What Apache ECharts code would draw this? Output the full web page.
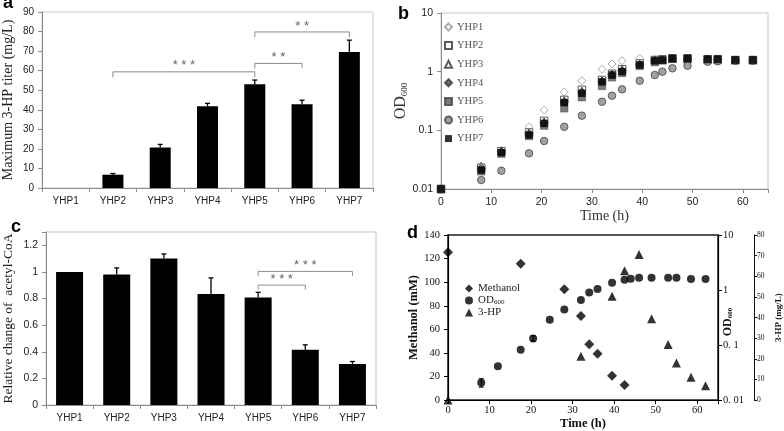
<!DOCTYPE html>
<html><head><meta charset="utf-8">
<script src="https://cdn.jsdelivr.net/npm/echarts/dist/echarts.min.js"></script>
<style>html,body{margin:0;padding:0;background:#fff}#c{width:784px;height:431px}</style>
</head><body><div id="c"></div><script>
// ---------- data ----------
const strains = ['YHP1','YHP2','YHP3','YHP4','YHP5','YHP6','YHP7'];
// panel a: maximum 3-HP titer (mg/L)
const titer = [0, 6.8, 20.7, 41.8, 53.0, 42.8, 69.6];
const titerErr = [0, 0.6, 1.6, 1.5, 2.2, 2.1, 6.0];
const titerBrFrom = [1, 4, 4];
const titerBrTo = [4, 5, 6];
const titerBrY = [59.4, 63.7, 79.8];
const titerBrEnd = [56.6, 61.2, 77.0];
const titerStars = ['***', '**', '**'];
// panel c: relative acetyl-CoA
const acoa = [1.0, 0.98, 1.10, 0.835, 0.807, 0.415, 0.309];
const acoaErr = [0, 0.05, 0.035, 0.12, 0.04, 0.037, 0.018];
const acoaBrFrom = [4, 4];
const acoaBrTo = [5, 6];
const acoaBrY = [0.901, 1.004];
const acoaBrEnd = [0.866, 0.969];
const acoaStars = ['***', '***'];
// panel b: OD600 growth curves
const timeB = [0, 8, 12, 17.5, 20.5, 24.5, 28, 32, 34, 36, 39.5, 42.5, 44, 46, 49, 53, 55, 58.5, 62];
const odYHP1 = [0.01, 0.024, 0.045, 0.115, 0.222, 0.45, 0.70, 1.10, 1.35, 1.54, 1.69, 1.60, 1.62, 1.65, 1.65, 1.62, 1.62, 1.58, 1.58];
const odYHP2 = [0.01, 0.023, 0.044, 0.092, 0.145, 0.33, 0.49, 0.72, 0.92, 1.10, 1.38, 1.58, 1.62, 1.68, 1.68, 1.63, 1.63, 1.58, 1.58];
const odYHP3 = [0.01, 0.0247, 0.045, 0.090, 0.140, 0.32, 0.47, 0.70, 0.90, 1.07, 1.35, 1.56, 1.60, 1.66, 1.66, 1.62, 1.62, 1.58, 1.58];
const odYHP4 = [0.01, 0.022, 0.043, 0.088, 0.135, 0.31, 0.45, 0.69, 0.89, 1.05, 1.33, 1.55, 1.60, 1.66, 1.66, 1.62, 1.62, 1.58, 1.58];
const odYHP5 = [0.01, 0.020, 0.040, 0.080, 0.120, 0.237, 0.366, 0.57, 0.80, 0.95, 1.25, 1.45, 1.55, 1.65, 1.65, 1.60, 1.60, 1.56, 1.56];
const odYHP6 = [0.01, 0.0142, 0.0205, 0.0406, 0.0658, 0.115, 0.178, 0.307, 0.389, 0.50, 0.70, 0.877, 1.0, 1.14, 1.26, 1.48, 1.50, 1.55, 1.55];
const odYHP7 = [0.01, 0.021, 0.0416, 0.083, 0.131, 0.296, 0.428, 0.67, 0.877, 1.0, 1.30, 1.54, 1.58, 1.69, 1.69, 1.63, 1.63, 1.58, 1.58];
// panel d: fermentation
const timeMeoh = [0, 17.5, 28, 32, 34, 36, 39.5, 42.5];
const methanol = [125.3, 115.7, 93.9, 71.4, 47.4, 39.2, 20.7, 12.8];
const timeOd = [8, 12, 17.5, 20.5, 24.5, 28, 32, 34, 36, 39.5, 42.5, 44, 46, 49, 53, 55, 58.5, 62];
const odD = [0.0206, 0.0413, 0.0819, 0.131, 0.288, 0.443, 0.662, 0.903, 1.045, 1.35, 1.54, 1.6, 1.67, 1.67, 1.67, 1.67, 1.58, 1.58];
const odErrTime = [8, 20.5];
const odErrLow = [0.0172, 0.118];
const odErrHigh = [0.0245, 0.147];
const timeHp = [0, 32, 39.5, 42.5, 46, 49, 53, 55, 58.5, 62];
const hp = [0, 21.2, 50.3, 62.7, 70.5, 39.4, 27.0, 18.0, 11.1, 6.9];

// ---------- styles ----------
const SANS = 'Liberation Sans, Arial, sans-serif';
const SERIF = 'Liberation Serif, Times New Roman, serif';
const gray = '#8c8c8c';

function errRender(vals, errs) {
  return function (params, api) {
    const i = params.dataIndex;
    if (!errs[i]) return null;
    const base = api.coord([i, vals[i]]);
    const top = api.coord([i, vals[i] + errs[i]]);
    return { type: 'group', children: [
      { type: 'line', shape: { x1: base[0], y1: base[1], x2: top[0], y2: top[1] }, style: { stroke: '#000', lineWidth: 1.3 } },
      { type: 'line', shape: { x1: top[0] - 2.5, y1: top[1], x2: top[0] + 2.5, y2: top[1] }, style: { stroke: '#000', lineWidth: 1.3 } }
    ]};
  };
}
function bracketRender(from, to, yl, ye, stars) {
  return function (params, api) {
    const i = params.dataIndex;
    const a1 = api.coord([from[i], ye[i]]);
    const a2 = api.coord([from[i], yl[i]]);
    const b2 = api.coord([to[i], yl[i]]);
    const b1 = api.coord([to[i], ye[i]]);
    return { type: 'group', children: [
      { type: 'polyline', shape: { points: [a1, a2, b2, b1] }, style: { stroke: gray, lineWidth: 1, fill: null } },
      { type: 'text', x: (a2[0] + b2[0]) / 2, y: a2[1] - 6, style: { text: stars[i].split('').join(' '), align: 'center', verticalAlign: 'middle', fontSize: 13, fontFamily: SANS, fill: '#666' } }
    ]};
  };
}
function odErrRender(params, api) {
  const i = params.dataIndex;
  const lo = api.coord([odErrTime[i], odErrLow[i]]);
  const hi = api.coord([odErrTime[i], odErrHigh[i]]);
  return { type: 'group', children: [
    { type: 'line', shape: { x1: lo[0], y1: lo[1], x2: hi[0], y2: hi[1] }, style: { stroke: '#000', lineWidth: 1 } },
    { type: 'line', shape: { x1: lo[0] - 2.5, y1: lo[1], x2: lo[0] + 2.5, y2: lo[1] }, style: { stroke: '#000', lineWidth: 1 } },
    { type: 'line', shape: { x1: hi[0] - 2.5, y1: hi[1], x2: hi[0] + 2.5, y2: hi[1] }, style: { stroke: '#000', lineWidth: 1 } }
  ]};
}
const pairs = (xs, ys) => xs.map((x, i) => [x, ys[i]]);

const excelAxis = {
  axisLine: { show: true, lineStyle: { color: gray, width: 1 } },
  axisTick: { show: true, length: 4, lineStyle: { color: gray } },
  splitLine: { show: false },
  axisLabel: { fontFamily: SANS, fontSize: 10, color: '#222' }
};
const blackAxis = {
  axisLine: { show: true, lineStyle: { color: '#000', width: 1.2 } },
  axisTick: { show: true, length: 4, lineStyle: { color: '#000' } },
  splitLine: { show: false },
  axisLabel: { fontFamily: SERIF, fontSize: 10.5, color: '#111' }
};
const tens = v => (v % 10 === 0 ? String(v) : '');

const bStyles = [
  { symbol: 'diamond', symbolSize: 8, itemStyle: { color: '#fff', borderColor: '#9a9a9a', borderWidth: 1 } },
  { symbol: 'rect', symbolSize: 7.5, itemStyle: { color: '#fff', borderColor: '#333', borderWidth: 1 } },
  { symbol: 'triangle', symbolSize: 7.5, itemStyle: { color: '#fff', borderColor: '#333', borderWidth: 1 } },
  { symbol: 'diamond', symbolSize: 8, itemStyle: { color: '#555', borderColor: '#333', borderWidth: 1 } },
  { symbol: 'rect', symbolSize: 7.5, itemStyle: { color: '#5a5a5a', borderColor: '#444', borderWidth: 0.5 } },
  { symbol: 'circle', symbolSize: 7.5, itemStyle: { color: '#8a8a8a', borderColor: '#444', borderWidth: 1 } },
  { symbol: 'rect', symbolSize: 7.5, itemStyle: { color: '#000', borderColor: '#000', borderWidth: 0 } }
];
const bData = [odYHP1, odYHP2, odYHP3, odYHP4, odYHP5, odYHP6, odYHP7];

const chart = echarts.init(document.getElementById('c'), null, { renderer: 'canvas' });
chart.setOption({
  animation: false,
  backgroundColor: '#fff',
  grid: [
    { left: 39, top: 12, width: 334, height: 176, show: true, borderColor: '#c8c8c8', borderWidth: 1 },
    { left: 441, top: 13, width: 327, height: 176, show: true, borderColor: '#c8c8c8', borderWidth: 1 },
    { left: 44, top: 232, width: 332, height: 173, show: true, borderColor: '#c8c8c8', borderWidth: 1 },
    { left: 448, top: 235, width: 270, height: 171, show: true, borderColor: '#555', borderWidth: 2 }
  ],
  xAxis: [
    Object.assign({}, excelAxis, { type: 'category', gridIndex: 0, data: strains,
      axisLabel: { fontFamily: SANS, fontSize: 10, color: '#222', margin: 8 } }),
    Object.assign({}, excelAxis, { type: 'value', gridIndex: 1, min: 0, max: 65, interval: 10,
      axisLabel: { fontFamily: SANS, fontSize: 10.5, color: '#222', formatter: tens },
      name: 'Time (h)', nameLocation: 'middle', nameGap: 13,
      nameTextStyle: { fontFamily: SERIF, fontSize: 14, color: '#333' } }),
    Object.assign({}, excelAxis, { type: 'category', gridIndex: 2, data: strains,
      axisLabel: { fontFamily: SANS, fontSize: 10, color: '#222', margin: 8 } }),
    Object.assign({}, blackAxis, { type: 'value', gridIndex: 3, min: 0, max: 65, interval: 10,
      axisLabel: { fontFamily: SERIF, fontSize: 10.5, color: '#111', formatter: tens, margin: 5 },
      name: 'Time (h)', nameLocation: 'middle', nameGap: 13,
      nameTextStyle: { fontFamily: SERIF, fontSize: 12.5, fontWeight: 'bold', color: '#111' } })
  ],
  yAxis: [
    Object.assign({}, excelAxis, { type: 'value', gridIndex: 0, min: 0, max: 90, interval: 10,
      name: 'Maximum 3-HP titer (mg/L)', nameLocation: 'middle', nameGap: 27,
      nameTextStyle: { fontFamily: SERIF, fontSize: 14, color: '#222' } }),
    Object.assign({}, excelAxis, { type: 'log', logBase: 10, gridIndex: 1, min: 0.01, max: 10,
      axisLabel: { fontFamily: SANS, fontSize: 10.5, color: '#222' },
      name: 'OD{sub|600}', nameLocation: 'middle', nameGap: 27,
      nameTextStyle: { fontFamily: SERIF, fontSize: 16, color: '#333',
        rich: { sub: { fontFamily: SERIF, fontSize: 9, color: '#333', padding: [7, 0, 0, 0] } } } }),
    Object.assign({}, excelAxis, { type: 'value', gridIndex: 2, min: 0, max: 1.3, interval: 0.2,
      axisLabel: { fontFamily: SANS, fontSize: 10.5, color: '#222', formatter: v => (v > 1.25 ? '' : String(+v.toFixed(1))) },
      name: 'Relative change of  acetyl-CoA', nameLocation: 'middle', nameGap: 31,
      nameTextStyle: { fontFamily: SERIF, fontSize: 13.5, color: '#222' } }),
    Object.assign({}, blackAxis, { type: 'value', gridIndex: 3, min: 0, max: 140, interval: 20,
      name: 'Methanol (mM)', nameLocation: 'middle', nameGap: 26,
      nameTextStyle: { fontFamily: SERIF, fontSize: 12.5, fontWeight: 'bold', color: '#111' } }),
    Object.assign({}, blackAxis, { type: 'log', logBase: 10, gridIndex: 3, min: 0.01, max: 10, position: 'right',
      axisLabel: { fontFamily: SERIF, fontSize: 10.5, color: '#111', margin: 5,
        formatter: v => ({ '1': '10', '0': '1', '-1': '0. 1', '-2': '0. 01' })[String(Math.round(Math.log10(v)))] } }),
    Object.assign({}, blackAxis, { type: 'value', gridIndex: 3, min: 0, max: 80, interval: 10, position: 'right', offset: 36,
      axisLine: { show: true, lineStyle: { color: '#111', width: 1 } },
      axisTick: { show: true, length: 3, lineStyle: { color: '#111' } },
      axisLabel: { fontFamily: SERIF, fontSize: 7.5, color: '#111', margin: 3 },
      name: '3-HP (mg/L)', nameLocation: 'middle', nameGap: 20, nameRotate: 90,
      nameTextStyle: { fontFamily: SERIF, fontSize: 9, fontWeight: 'bold', color: '#111' } })
  ],
  legend: [
    { orient: 'vertical', left: 444, top: 21, itemWidth: 7, itemHeight: 7, itemGap: 6.6, padding: 0,
      data: strains, textStyle: { fontFamily: SERIF, fontSize: 10.5, color: '#555', lineHeight: 12 } },
    { orient: 'vertical', left: 465, top: 283, itemWidth: 8, itemHeight: 8, itemGap: 1, padding: 0,
      data: ['Methanol', 'OD600', '3-HP'],
      formatter: n => (n === 'OD600' ? 'OD{sub|600}' : n),
      textStyle: { fontFamily: SERIF, fontSize: 11, color: '#222', lineHeight: 11,
        rich: { sub: { fontFamily: SERIF, fontSize: 7, color: '#222', padding: [4, 0, 0, 0] } } } }
  ],
  graphic: [
    { type: 'text', left: 3, top: -6, style: { text: 'a', fontFamily: SANS, fontWeight: 'bold', fontSize: 18, fill: '#000' } },
    { type: 'text', left: 398, top: 5, style: { text: 'b', fontFamily: SANS, fontWeight: 'bold', fontSize: 18, fill: '#000' } },
    { type: 'text', left: 11, top: 218, style: { text: 'c', fontFamily: SANS, fontWeight: 'bold', fontSize: 18, fill: '#000' } },
    { type: 'text', left: 407, top: 224, style: { text: 'd', fontFamily: SANS, fontWeight: 'bold', fontSize: 18, fill: '#000' } },
    { type: 'text', x: 728, y: 322, rotation: Math.PI / 2,
      style: { text: 'OD{sub|600}', align: 'center', verticalAlign: 'middle', fontFamily: SERIF, fontSize: 12, fontWeight: 'bold', fill: '#111',
        rich: { sub: { fontFamily: SERIF, fontSize: 7, fontWeight: 'bold', fill: '#111', padding: [5, 0, 0, 0] } } } }
  ],
  series: [
    { type: 'bar', xAxisIndex: 0, yAxisIndex: 0, data: titer, barWidth: 21, itemStyle: { color: '#000' }, silent: true },
    { type: 'custom', xAxisIndex: 0, yAxisIndex: 0, data: titer.map((v, i) => [i, v]), renderItem: errRender(titer, titerErr), z: 5 },
    { type: 'custom', xAxisIndex: 0, yAxisIndex: 0, data: titerBrFrom.map((f, i) => [f, titerBrY[i]]),
      renderItem: bracketRender(titerBrFrom, titerBrTo, titerBrY, titerBrEnd, titerStars), z: 5 },

    ...strains.map((s, k) => Object.assign({ type: 'scatter', name: s, xAxisIndex: 1, yAxisIndex: 1,
      data: pairs(timeB, bData[k]) }, bStyles[k])),

    { type: 'bar', xAxisIndex: 2, yAxisIndex: 2, data: acoa, barWidth: 27, itemStyle: { color: '#000' }, silent: true },
    { type: 'custom', xAxisIndex: 2, yAxisIndex: 2, data: acoa.map((v, i) => [i, v]), renderItem: errRender(acoa, acoaErr), z: 5 },
    { type: 'custom', xAxisIndex: 2, yAxisIndex: 2, data: acoaBrFrom.map((f, i) => [f, acoaBrY[i]]),
      renderItem: bracketRender(acoaBrFrom, acoaBrTo, acoaBrY, acoaBrEnd, acoaStars), z: 5 },

    { type: 'scatter', name: 'Methanol', xAxisIndex: 3, yAxisIndex: 3, data: pairs(timeMeoh, methanol),
      symbol: 'diamond', symbolSize: 10, itemStyle: { color: '#000' } },
    { type: 'scatter', name: 'OD600', xAxisIndex: 3, yAxisIndex: 4, data: pairs(timeOd, odD),
      symbol: 'circle', symbolSize: 8, itemStyle: { color: '#000' } },
    { type: 'custom', xAxisIndex: 3, yAxisIndex: 4, data: pairs(odErrTime, odErrHigh), renderItem: odErrRender, z: 5 },
    { type: 'scatter', name: '3-HP', xAxisIndex: 3, yAxisIndex: 5, data: pairs(timeHp, hp),
      symbol: 'triangle', symbolSize: 9, itemStyle: { color: '#000' } }
  ]
});
</script></body></html>
